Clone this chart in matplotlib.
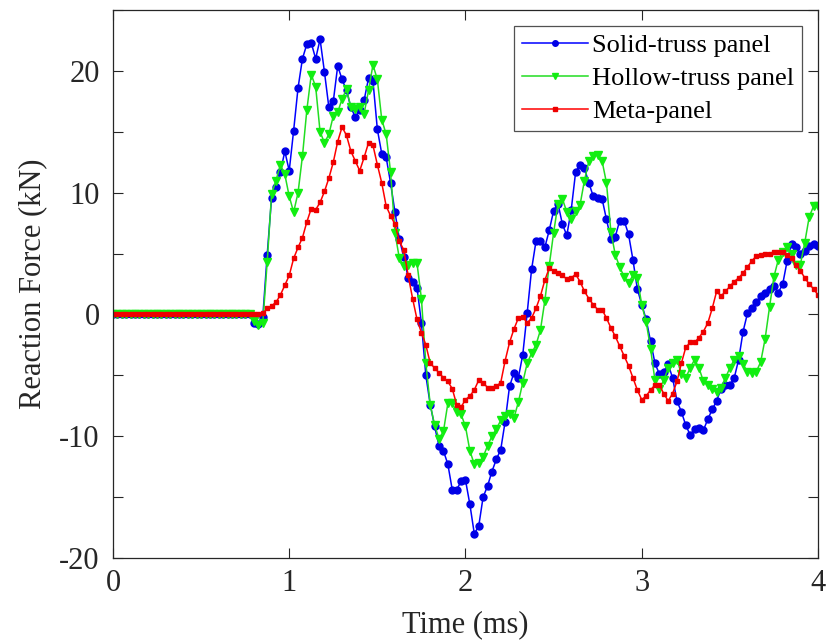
import numpy as np
import matplotlib.pyplot as plt
from matplotlib.ticker import MultipleLocator

plt.rcParams["font.family"] = ["Liberation Serif", "DejaVu Serif"]
plt.rcParams["axes.unicode_minus"] = False

# sampling grid: 0-4 ms every 0.025 ms
time_ms = np.linspace(0.0, 4.0, 161)

# reaction force (kN); quiet before impact, then the recorded response
solid_truss = [
    0.0, 0.0, 0.0, 0.0, 0.0, 0.0, 0.0, 0.0,
    0.0, 0.0, 0.0, 0.0, 0.0, 0.0, 0.0, 0.0,
    0.0, 0.0, 0.0, 0.0, 0.0, 0.0, 0.0, 0.0,
    0.0, 0.0, 0.0, 0.0, 0.0, 0.0, 0.0, 0.0,
    -0.7, -0.8, -0.2, 4.9, 9.6, 10.5, 11.7, 13.4,
    11.8, 15.1, 18.6, 21.0, 22.2, 22.3, 21.0, 22.6,
    19.9, 17.0, 17.5, 20.4, 19.3, 18.4, 17.0, 16.2,
    16.8, 17.6, 19.4, 19.2, 15.2, 13.2, 12.9, 10.8,
    8.4, 6.2, 4.7, 3.0, 2.7, 2.2, -0.7, -5.0,
    -7.4, -9.2, -10.8, -11.2, -12.3, -14.4, -14.4, -13.7,
    -13.6, -15.6, -18.0, -17.4, -15.0, -14.1, -12.9, -11.9,
    -11.1, -8.8, -5.9, -4.8, -5.2, -3.3, 0.1, 3.7,
    6.0, 6.0, 5.5, 6.9, 8.5, 9.1, 7.4, 6.5,
    8.6, 11.7, 12.3, 12.0, 10.8, 9.7, 9.6, 9.5,
    7.8, 6.2, 6.4, 7.7, 7.7, 6.6, 4.5, 2.1,
    0.8, -0.4, -2.2, -4.0, -4.9, -4.7, -4.1, -5.2,
    -7.1, -8.0, -9.1, -9.9, -9.4, -9.3, -9.5, -8.6,
    -7.8, -7.1, -6.1, -5.8, -5.8, -5.2, -3.7, -1.4,
    0.1, 0.5, 1.0, 1.5, 1.8, 2.1, 2.3, 1.8,
    2.5, 4.4, 5.8, 5.5, 5.0, 5.2, 5.6, 5.8,
    5.6,
]

hollow_truss = [
    0.0, 0.0, 0.0, 0.0, 0.0, 0.0, 0.0, 0.0,
    0.0, 0.0, 0.0, 0.0, 0.0, 0.0, 0.0, 0.0,
    0.0, 0.0, 0.0, 0.0, 0.0, 0.0, 0.0, 0.0,
    0.0, 0.0, 0.0, 0.0, 0.0, 0.0, 0.0, 0.0,
    -0.5, -0.9, -0.7, 4.3, 9.9, 11.0, 12.3, 11.5,
    9.7, 8.4, 10.0, 13.0, 16.8, 19.7, 18.7, 15.0,
    14.1, 14.8, 16.3, 16.6, 17.7, 18.5, 17.0, 16.9,
    17.0, 16.5, 18.4, 20.5, 19.3, 16.0, 14.8, 11.7,
    6.7, 4.6, 4.0, 4.1, 4.2, 4.2, 1.3, -4.0,
    -7.4, -9.1, -10.2, -9.6, -7.3, -7.3, -8.0, -8.2,
    -9.2, -11.2, -12.3, -12.2, -11.7, -10.8, -10.0, -9.4,
    -8.7, -8.3, -8.2, -8.5, -7.2, -5.6, -4.0, -3.2,
    -2.5, -1.3, 1.1, 4.0, 6.7, 9.1, 9.5, 8.4,
    7.8, 8.5, 9.0, 11.0, 12.6, 13.0, 13.1, 12.6,
    10.8, 6.8, 4.9, 3.9, 3.1, 2.6, 3.2, 3.0,
    0.8, -0.6, -2.8, -5.4, -6.1, -5.4, -4.4, -4.0,
    -3.7, -4.9, -5.2, -4.4, -3.7, -4.4, -5.5, -5.8,
    -6.1, -6.4, -6.0, -5.2, -4.4, -3.7, -3.4, -4.1,
    -4.7, -4.8, -4.7, -3.9, -2.0, 0.6, 3.1, 4.5,
    5.1, 5.5, 5.0, 4.1, 4.1, 5.9, 8.0, 8.9,
    8.9,
]

meta_panel = [
    0.0, 0.0, 0.0, 0.0, 0.0, 0.0, 0.0, 0.0,
    0.0, 0.0, 0.0, 0.0, 0.0, 0.0, 0.0, 0.0,
    0.0, 0.0, 0.0, 0.0, 0.0, 0.0, 0.0, 0.0,
    0.0, 0.0, 0.0, 0.0, 0.0, 0.0, 0.0, 0.0,
    0.0, 0.0, 0.1, 0.5, 0.7, 1.0, 1.6, 2.4,
    3.2, 4.6, 5.5, 6.3, 7.6, 8.7, 8.6, 9.2,
    10.1, 11.2, 12.5, 14.2, 15.4, 14.7, 13.4, 12.6,
    11.8, 12.9, 14.1, 13.9, 12.3, 10.8, 8.9, 8.1,
    7.4, 6.0, 5.3, 3.2, 1.3, -0.4, -1.5, -2.5,
    -4.0, -4.4, -4.8, -5.2, -5.5, -6.1, -7.4, -7.6,
    -7.0, -6.7, -6.2, -5.4, -5.6, -6.0, -6.0, -5.9,
    -5.6, -3.8, -2.3, -1.2, -0.3, -0.2, -0.7, -0.3,
    0.5, 1.5, 2.8, 3.8, 3.6, 3.4, 3.2, 2.9,
    3.0, 3.3, 2.7, 1.9, 1.3, 0.8, 0.4, 0.4,
    -0.3, -1.1, -1.8, -2.6, -3.4, -4.2, -5.2, -6.2,
    -7.0, -6.7, -6.2, -5.8, -5.8, -6.5, -7.1, -6.5,
    -5.5, -4.0, -2.7, -2.3, -2.3, -1.9, -1.4, -0.7,
    0.5, 1.9, 1.5, 1.9, 2.3, 2.7, 3.0, 3.4,
    3.9, 4.4, 4.8, 4.9, 5.0, 5.0, 5.1, 5.1,
    5.1, 4.9, 4.6, 4.1, 3.6, 3.0, 2.5, 2.1,
    1.6,
]

labels = ["Solid-truss panel", "Hollow-truss panel", "Meta-panel"]
ink = "#262626"

fig = plt.figure(figsize=(8.27, 6.43), dpi=100)
ax = fig.add_axes([0.1366, 0.1322, 0.8525, 0.8522])

ax.plot(time_ms, solid_truss, "-o", color="#0000ff", lw=1.1,
        ms=5.0, mfc="#0000e6", mec="#0000e6", label=labels[0])
ax.plot(time_ms, hollow_truss, "-v", color="#22dd22", lw=1.1,
        ms=5.5, mfc="#11ee11", mec="#11ee11", label=labels[1])
ax.plot(time_ms, meta_panel, "-s", color="#ff0000", lw=1.1,
        ms=3.5, mfc="#ee0000", mec="#ee0000", label=labels[2])

ax.set_xlim(0, 4)
ax.set_ylim(-20, 25)
ax.set_xticks([0, 1, 2, 3, 4])
ax.set_yticks([-20, -10, 0, 10, 20])
ax.yaxis.set_minor_locator(MultipleLocator(5))

ax.tick_params(which="both", direction="in", top=True, right=True,
               length=7, width=0.8, colors=ink, labelsize=22)
ax.tick_params(axis="x", pad=8)
ax.tick_params(axis="y", pad=9.5)
for side in ax.spines.values():
    side.set_color(ink)
    side.set_linewidth(0.9)

ax.set_xlabel("Time (ms)", fontsize=22, color=ink, labelpad=9)
ax.set_ylabel("Reaction Force (kN)", fontsize=22, color=ink, labelpad=9)

leg = ax.legend(loc="upper right", fontsize=19, frameon=True, fancybox=False,
                edgecolor=ink, numpoints=1, handlelength=2.5,
                handletextpad=0.15, borderpad=0.3, labelspacing=0.36,
                borderaxespad=0.6, markerscale=0.8)
leg.get_frame().set_linewidth(0.9)

fig.savefig("out.png", dpi=100, facecolor="white")
